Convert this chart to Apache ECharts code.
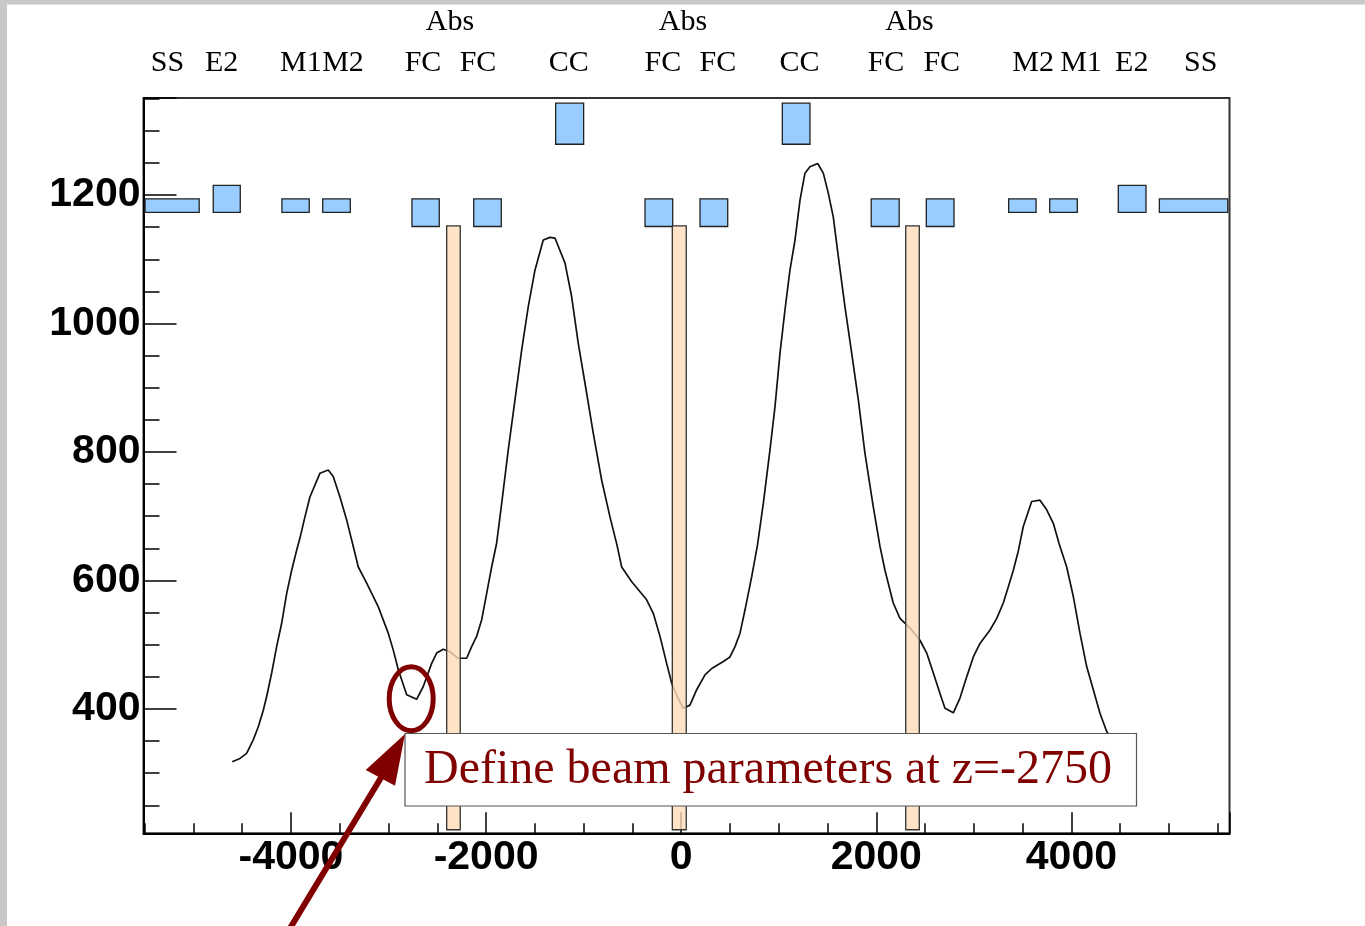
<!DOCTYPE html>
<html><head><meta charset="utf-8">
<script src="https://cdn.jsdelivr.net/npm/echarts@6/dist/echarts.min.js"></script>
<style>html,body{margin:0;padding:0;background:#fff}#c{width:1365px;height:926px}</style>
</head><body><div id="c"></div>
<script>
// ---- axis ranges ----
const xRange = [-5512, 5621];
const yRange = [206.5, 1351];
const xMajorStep = 2000, yMajorStep = 200;

// ---- beam envelope curve (z, value) ----
const curveZ = [-4602,-4523,-4455,-4387,-4336,-4284,-4250,-4198,-4147,-4096,-4044,-3993,-3942,-3908,-3857,-3806,-3703,-3618,-3567,-3498,-3429,-3378,-3310,-3224,-3105,-3003,-2952,-2900,-2814,-2712,-2644,-2558,-2507,-2439,-2370,-2288,-2199,-2148,-2097,-2045,-1994,-1943,-1892,-1840,-1773,-1704,-1635,-1568,-1499,-1414,-1345,-1294,-1191,-1123,-1055,-986,-901,-815,-730,-658,-610,-507,-354,-286,-217,-149,-97,-40,22,90,159,244,313,432,500,552,603,654,723,782,842,910,962,1013,1064,1115,1167,1218,1269,1320,1399,1457,1508,1559,1611,1679,1748,1816,1884,1969,2038,2089,2174,2243,2346,2448,2517,2585,2653,2704,2790,2858,2927,2995,3063,3166,3235,3302,3353,3405,3456,3507,3593,3678,3747,3815,3873,3952,4020,4088,4157,4225,4294,4362,4450,4530,4600];
const curveV = [318,323,331,352,372,398,419,456,497,533,580,616,647,666,699,730,767,772,762,730,694,663,621,596,559,518,492,461,422,415,435,471,487,493,489,479,479,497,513,539,580,621,658,720,803,881,959,1026,1083,1130,1134,1133,1094,1042,969,907,829,756,699,655,621,598,570,549,513,471,440,419,401,406,430,453,463,474,481,497,518,554,606,655,720,803,871,954,1021,1083,1130,1192,1234,1244,1249,1234,1203,1166,1104,1026,954,881,798,715,653,616,565,541,526,507,487,456,424,401,394,417,450,481,502,523,541,565,590,616,646,684,723,725,710,689,658,621,575,518,466,430,393,365,345,330,318];

// ---- beamline elements (blue boxes) ----
const elemX0 = [-5496,-4797,-4093,-3675,-2760,-2127,-1287,-371,193,1037,1948,2513,3357,3778,4481,4902];
const elemX1 = [-4941,-4520,-3813,-3392,-2480,-1844,-1000,-87,477,1320,2235,2797,3638,4061,4765,5603];
const elemY0 = [1173,1173,1173,1173,1151,1151,1279,1151,1151,1279,1151,1151,1173,1173,1173,1173];
const elemY1 = [1194,1215,1194,1194,1194,1194,1343,1194,1194,1343,1194,1194,1194,1194,1215,1194];

// ---- absorbers (peach bars) ----
const absX0 = [-2404,-91,2302];
const absX1 = [-2265,52,2441];
const absY0 = [212,212,212];
const absY1 = [1152,1152,1152];

// ---- element labels above the frame ----
const labelNames = ['SS','E2','M1','M2','FC','Abs','FC','CC','FC','Abs','FC','CC','FC','Abs','FC','M2','M1','E2','SS'];
const labelZ     = [-5267,-4711,-3898,-3467,-2647,-2370,-2083,-1153,-187,18,377,1213,2100,2341,2671,3607,4099,4619,5326];
const labelRow   = [1,1,1,1,1,0,1,1,1,0,1,1,1,0,1,1,1,1,1];

const annotationText = 'Define beam parameters at z=-2750';

const chart = echarts.init(document.getElementById('c'), null, {renderer:'canvas'});

const rectItem = (fill, stroke, lw) => function (params, api) {
  const p0 = api.coord([api.value(0), api.value(3)]);
  const p1 = api.coord([api.value(1), api.value(2)]);
  return {type:'rect', shape:{x:p0[0], y:p0[1], width:p1[0]-p0[0], height:p1[1]-p0[1]},
          style:{fill:fill, stroke:stroke, lineWidth:lw}};
};

const axisFont = {fontFamily:'"Liberation Sans", Arial, sans-serif', fontWeight:'bold', fontSize:41, color:'#000',
                  formatter: v => String(v)};

chart.setOption({
  animation:false,
  backgroundColor:'#fff',
  grid:{left:143.5, right:135.5, top:98, bottom:92.7, show:true, borderColor:'#333', borderWidth:2, backgroundColor:'transparent', outerBoundsMode:'none', containLabel:false},
  xAxis:{type:'value', min:xRange[0], max:xRange[1], minInterval:xMajorStep, maxInterval:xMajorStep,
    axisLine:{show:true, onZero:false, lineStyle:{color:'#000', width:2}},
    axisTick:{show:true, inside:true, length:21, lineStyle:{color:'#000', width:1.5}},
    minorTick:{show:true, splitNumber:4, length:10, lineStyle:{color:'#000', width:1.5}},
    splitLine:{show:false}, minorSplitLine:{show:false},
    axisLabel:Object.assign({showMinLabel:false, showMaxLabel:false, margin:4}, axisFont)},
  yAxis:{type:'value', min:yRange[0], max:yRange[1], minInterval:yMajorStep, maxInterval:yMajorStep,
    axisLine:{show:true, onZero:false, lineStyle:{color:'#000', width:2}},
    axisTick:{show:true, inside:true, length:33, lineStyle:{color:'#000', width:1.5}},
    minorTick:{show:true, splitNumber:4, length:16, lineStyle:{color:'#000', width:1.5}},
    splitLine:{show:false}, minorSplitLine:{show:false},
    axisLabel:Object.assign({showMinLabel:false, showMaxLabel:false, margin:3, padding:[4,0,0,0]}, axisFont)},
  series:[
    {type:'line', data:curveZ.map((z,i)=>[z, curveV[i]]), showSymbol:false, symbol:'none',
     lineStyle:{color:'#111', width:1.7}, z:2, silent:true},
    {type:'custom', data:elemX0.map((x,i)=>[x, elemX1[i], elemY0[i], elemY1[i]]),
     encode:{x:[0,1], y:[2,3]}, renderItem:rectItem('#99ccff','#222',1.3), clip:false, z:3, silent:true},
    {type:'custom', data:absX0.map((x,i)=>[x, absX1[i], absY0[i], absY1[i]]),
     encode:{x:[0,1], y:[2,3]}, renderItem:rectItem('rgba(255,220,185,0.8)','#333',1.3), clip:false, z:4, silent:true},
    {type:'custom', data:labelZ.map((z,i)=>[z, i]), encode:{x:0}, clip:false, z:5, silent:true,
     renderItem:function(params, api){
       const i = params.dataIndex;
       const x = api.coord([api.value(0), yRange[1]])[0];
       return {type:'text', x:x, y: labelRow[i]===0 ? 22 : 63,
         style:{text:labelNames[i], fill:'#000', align:'center', verticalAlign:'middle',
                font:'30px "Liberation Serif", "Times New Roman", serif'}};
     }}
  ],
  graphic:[
    {type:'rect', shape:{x:0,y:0,width:7,height:926}, style:{fill:'#c8c8c8'}, z:100},
    {type:'rect', shape:{x:0,y:0,width:1365,height:4.5}, style:{fill:'#c8c8c8'}, z:100},
    {type:'rect', shape:{x:405,y:733.5,width:731.5,height:72.5}, style:{fill:'#fff', stroke:'#555', lineWidth:1.2}, z:100},
    {type:'text', x:424, y:770.5, style:{text:annotationText, fill:'#800000', font:'48px "Liberation Serif", "Times New Roman", serif', align:'left', verticalAlign:'middle'}, z:101},
    {type:'ellipse', shape:{cx:411.2, cy:698.8, rx:22, ry:32}, style:{fill:null, stroke:'#800000', lineWidth:5}, z:101},
    {type:'line', shape:{x1:289, y1:930, x2:382, y2:776}, style:{stroke:'#800000', lineWidth:6}, z:101},
    {type:'polygon', shape:{points:[[405,734],[365.7,770],[395,785.7]]}, style:{fill:'#800000'}, z:102}
  ]
});
</script></body></html>
